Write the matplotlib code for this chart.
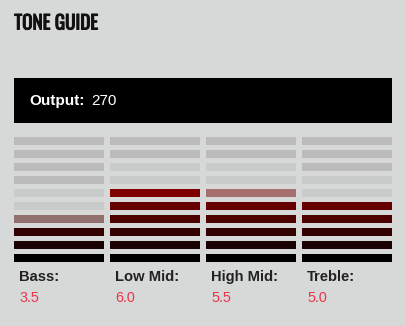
import matplotlib
matplotlib.use("Agg")
import matplotlib.pyplot as plt
import matplotlib.patheffects as pe

# data
bands = ["Bass", "Low Mid", "High Mid", "Treble"]
values = [3.5, 6.0, 5.5, 5.0]
output_value = 270
n_levels = 10

# colours for each lit level, bottom to top
level_colors = ['#000000', '#1a0000', '#330000', '#4d0000', '#660000',
                '#800000', '#990000', '#b30000', '#cc0000', '#e60000']
bg = '#d6d9d8'
gray_dark = '#bbbbbb'
gray_light = '#c9cbca'
red_txt = '#e8364a'

fig = plt.figure(figsize=(4.05, 3.26), dpi=100, facecolor=bg)
ax = fig.add_axes([0, 0, 1, 1])
ax.set_facecolor(bg)
ax.set_xlim(0, 405)
ax.set_ylim(326, 0)
ax.axis('off')

# title (Oswald is only available light here, so thicken it with a stroke)
ax.text(14.3, 23.5, "TONE GUIDE", fontsize=13.8, fontweight='bold',
        family=['Oswald', 'DejaVu Sans'],
        color='#111111', va='center', ha='left',
        path_effects=[pe.withStroke(linewidth=0.7, foreground='#111111')])

# output box
ax.bar(14, 45, width=378, bottom=78, align='edge', color='black')
ax.text(29, 101, "Output:", fontsize=11, fontweight='bold', color='white',
        family='Liberation Sans', va='center', ha='left')
ax.text(91, 101, str(output_value), fontsize=11, color='white',
        family='Liberation Sans', va='center', ha='left')

col_w = 90
col_step = 96
row_h = 8
row_step = 13
y_bottom = 254  # top edge of level-1 bar

for i, (name, v) in enumerate(zip(bands, values)):
    x0 = 14 + i * col_step
    full = int(v)
    half = (v - full) >= 0.5
    top_lit = full + (1 if half else 0)
    for k in range(1, n_levels + 1):
        y = y_bottom - (k - 1) * row_step
        if k <= full:
            c = level_colors[k - 1]
        elif k <= top_lit + 2:
            c = gray_light
        else:
            c = gray_dark
        ax.bar(x0, row_h, width=col_w, bottom=y, align='edge', color=c)
        if half and k == top_lit:
            ax.bar(x0, row_h, width=col_w, bottom=y, align='edge',
                   color=level_colors[k - 1], alpha=0.45)
    ax.text(x0 + 5, 277, name + ":", fontsize=10.6, fontweight='bold',
            color='#222222', family='Liberation Sans', va='center', ha='left')
    ax.text(x0 + 5, 298, f"{v:.1f}", fontsize=10.4, color=red_txt,
            family='Liberation Sans', va='center', ha='left')

fig.savefig("out.png", dpi=100, facecolor=bg)
